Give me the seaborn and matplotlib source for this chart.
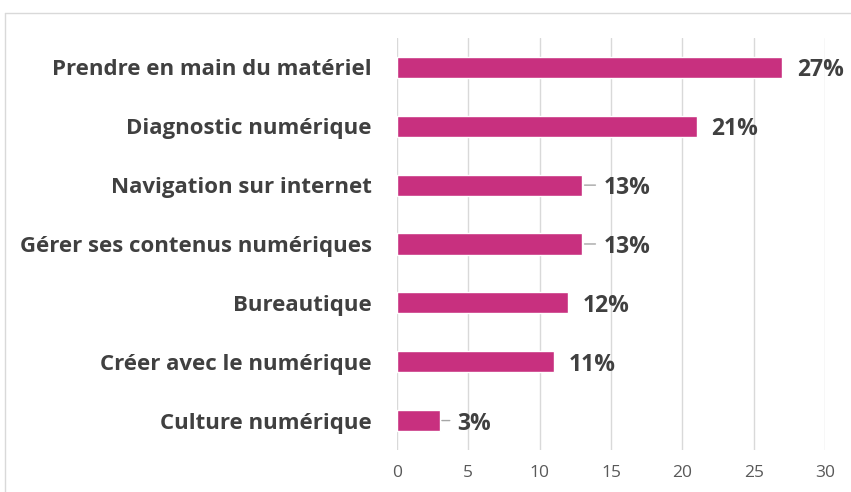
import matplotlib
matplotlib.use("Agg")
import matplotlib.pyplot as plt
import seaborn as sns
import pandas as pd

# Data
categories = ["Prendre en main du matériel", "Diagnostic numérique", "Navigation sur internet",
              "Gérer ses contenus numériques", "Bureautique", "Créer avec le numérique",
              "Culture numérique"]
values = [27, 21, 13, 13, 12, 11, 3]
leader = [False, False, True, True, False, False, True]
x_ticks = [0, 5, 10, 15, 20, 25, 30]

df = pd.DataFrame({"categorie": categories, "valeur": values})

sns.set_style("white")
plt.rcParams["font.family"] = ["Open Sans", "DejaVu Sans"]

fig = plt.figure(figsize=(8.51, 4.92), dpi=100)
ax = fig.add_axes([0.4665, 0.0854, 0.5029, 0.8374])

sns.barplot(data=df, x="valeur", y="categorie", color="#C8307F", width=0.36,
            saturation=1, ax=ax, orient="h")

ax.set_xlim(0, 30)
ax.set_ylim(6.5, -0.5)
ax.set_xticks(x_ticks)
ax.set_xlabel("")
ax.set_ylabel("")
ax.grid(axis="x", color="#D9D9D9", linewidth=1)
ax.set_axisbelow(True)
for s in ax.spines.values():
    s.set_visible(False)
ax.tick_params(axis="x", length=0, labelsize=12.5, colors="#595959", pad=11)
ax.tick_params(axis="y", length=0, pad=18)
for lab in ax.get_yticklabels():
    lab.set_fontsize(16)
    lab.set_fontweight("bold")
    lab.set_color("#404040")

# value labels (with short leader lines where Excel moved the label)
for i, (v, ld) in enumerate(zip(values, leader)):
    if ld:
        small = v < 5
        line_end = 10 if small else 13
        off = 17 if small else 21
        ax.annotate("", xy=(v, i), xytext=(line_end, 0), textcoords="offset pixels",
                    arrowprops=dict(arrowstyle="-", color="#A6A6A6", lw=1,
                                    shrinkA=0, shrinkB=1.5))
    else:
        off = 15
    ax.annotate(f"{v}%", xy=(v, i), xytext=(off, 0), textcoords="offset pixels",
                va="center_baseline", ha="left", fontsize=16.5, fontweight="bold",
                color="#404040")

# outer frame
fig.add_artist(plt.Line2D([4.5 / 851, 4.5 / 851], [0, 1 - 13 / 492], color="#D9D9D9", lw=1))
fig.add_artist(plt.Line2D([4.5 / 851, 1], [1 - 13 / 492, 1 - 13 / 492], color="#D9D9D9", lw=1))

fig.savefig("out.png", dpi=100)
